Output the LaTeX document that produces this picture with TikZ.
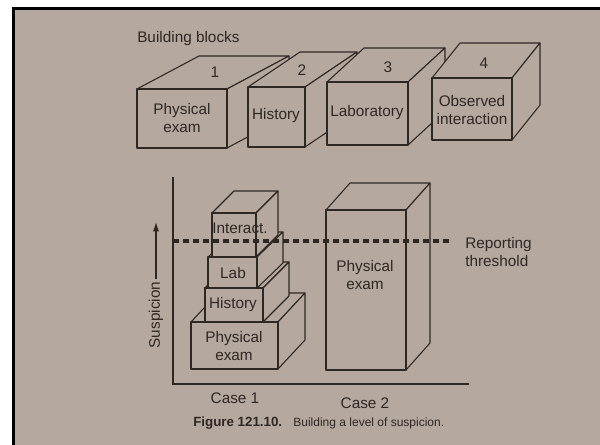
\documentclass[tikz,border=0pt]{standalone}
\usepackage{fontspec}
\setmainfont{Liberation Sans}
\usetikzlibrary{arrows.meta, positioning}
\definecolor{PAPER}{HTML}{B5A89E}
\definecolor{INK}{HTML}{2E2825}

\tikzset{
  face/.style={fill=PAPER, draw=INK, line width=0.8pt, line join=round},
  lbl/.style={text=INK, font=\fontsize{11.5}{14}\selectfont, align=center, inner sep=0pt},
  axis/.style={draw=INK, line width=0.8pt},
}

% box: front top-left (x,y), width, height, depth dx, dy
\newcommand{\blockbox}[6]{%
  \draw[face] (#1,#2) -- ++(#5,-#6) -- ++(#3,0) -- ++(-#5,#6) -- cycle;
  \draw[face] (#1+#3,#2) -- ++(#5,-#6) -- ++(0,#4) -- ++(-#5,#6) -- cycle;
  \draw[face] (#1,#2) rectangle ++(#3,#4);
}

\begin{document}
\begin{tikzpicture}[x=0.75pt, y=-0.75pt]
      \useasboundingbox (0,0) rectangle (600,445);
      % Page and frame edge
      \fill[white] (0,0) rectangle (600,445);
      \fill[black] (12,7) rectangle (600,445);
      \fill[PAPER] (15,10) rectangle (600,445);

      % Building blocks
      \node[lbl, anchor=west] (title) at (137,39) {Building blocks};
      \blockbox{137}{89}{90}{59}{62}{33}
      \blockbox{248}{87}{57}{60}{52}{35}
      \blockbox{327}{82}{81}{63}{37}{34}
      \blockbox{432}{78}{80}{62}{28}{35}
      \node[lbl] (num1) at (215,72) {1};
      \node[lbl] (num2) at (302,70) {2};
      \node[lbl] (num3) at (388,67) {3};
      \node[lbl] (num4) at (484,63) {4};
      \node[lbl] (blkexam) at (182,118) {Physical\\exam};
      \node[lbl] (blkhist) at (276,116) {History};
      \node[lbl] (blklab) at (367,113) {Laboratory};
      \node[lbl] (blkobs) at (472,110) {Observed\\interaction};

      % Axes
      \coordinate (ytop) at (173,177);
      \coordinate (origin) at (173,384);
      \coordinate (xend) at (469,384);
      \draw[axis] (ytop) -- (origin) -- (xend);
      \node[lbl, rotate=90] (susp) at (156,315) {Suspicion};
      \coordinate (susptop) at (156,222);
      \draw[axis, -{Latex[length=7pt, width=4.5pt]}] ([yshift=2pt]susp.east) -- (susptop);

      % Case 1: stacked blocks
      \blockbox{191}{322}{87}{47}{27}{29}
      \blockbox{205}{288}{58}{34}{26}{26}
      \blockbox{208}{257}{49}{31}{26}{25}
      \blockbox{212}{213}{44}{44}{22}{22}
      \node[lbl] (stkexam) at (234,346) {Physical\\exam};
      \node[lbl] (stkhist) at (233,305) {History};
      \node[lbl] (stklab) at (233,273) {Lab};
      \node[lbl] (stkint) at (240,228) {Interact.};

      % Case 2: one tall block
      \blockbox{326}{210}{80}{160}{24}{27}
      \node[lbl] (bigexam) at (365,275) {Physical\\exam};

      % Reporting threshold
      \coordinate (thl) at (173,241);
      \coordinate (thr) at (453,241);
      \draw[INK, line width=2.3pt, dash pattern=on 4.5pt off 3pt] (thl) -- (thr);
      \node[lbl, anchor=west, align=left] (thresh) at (465,252) {Reporting\\threshold};

      % Case labels and caption
      \node[lbl] (case1) at (235,398) {Case 1};
      \node[lbl] (case2) at (365,403) {Case 2};
      \node[lbl, anchor=west, font=\fontsize{10}{12}\selectfont\bfseries] (fig) at (193,423) {Figure 121.10.};
      \node[lbl, anchor=west, font=\fontsize{9}{11}\selectfont, right=8pt of fig] (capt) {Building a level of suspicion.};
    \end{tikzpicture}
\end{document}
